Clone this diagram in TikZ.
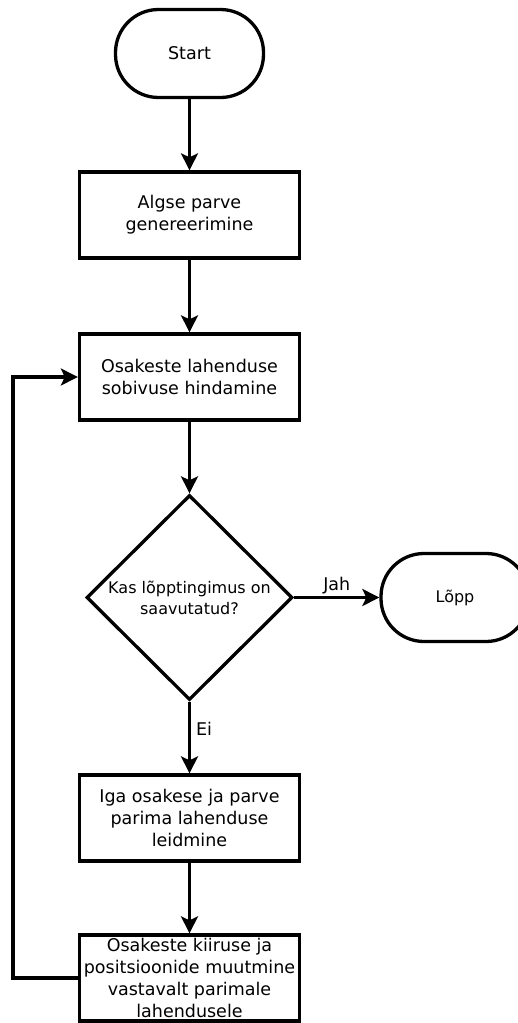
\documentclass[tikz,border=0pt]{standalone}
\usepackage{fontspec}
\setmainfont{DejaVu Sans}
\usetikzlibrary{shapes.geometric,arrows.meta}
\begin{document}
\begin{tikzpicture}[x=1pt,y=-1pt,
  every node/.style={font=\fontsize{17.5}{22}\selectfont},
  smalltext/.style={font=\fontsize{16}{21}\selectfont},
  procbox/.style={draw,line width=3.3pt,minimum width=220pt,minimum height=86pt,align=center,inner sep=0pt},
  term/.style={draw,line width=3.3pt,rounded corners=43pt,minimum width=148pt,minimum height=88pt,align=center},
  decision/.style={draw,diamond,line width=3.3pt,minimum width=206pt,minimum height=205pt,inner sep=0pt},
  conn/.style={line width=3.3pt,-{Stealth[length=17pt,width=17pt,inset=4pt]}},
  lbl/.style={inner sep=1pt}]
\useasboundingbox (0,0) rectangle (518,1023);
\node[term] (start) at (189.5,53.5) {Start};
\node[procbox] (b1) at (189.5,215) {Algse parve\\genereerimine};
\node[procbox] (b2) at (189.5,377) {Osakeste lahenduse\\sobivuse hindamine};
\node[decision,label={[align=center,smalltext]center:Kas lõpptingimus on\\saavutatud?}] (dec) at (189.5,597.5) {};
\node[term,smalltext] (lopp) at (455,597.5) {Lõpp};
\node[procbox] (b3) at (189.5,818) {Iga osakese ja parve\\parima lahenduse\\leidmine};
\node[procbox] (b4) at (189.5,978) {Osakeste kiiruse ja\\positsioonide muutmine\\vastavalt parimale\\lahendusele};
\coordinate (lp) at (13,978);
\draw[conn] (start) -- (b1);
\draw[conn] (b1) -- (b2);
\draw[conn] (b2) -- (dec);
\draw[conn] (dec) -- node[lbl,above,yshift=1pt] (jah) {Jah} (lopp);
\draw[conn] (dec) -- node[lbl,right,xshift=4pt,pos=0.38] (ei) {Ei} (b3);
\draw[conn] (b3) -- (b4);
\draw[conn] (b4.west) -- (lp) |- (b2.west);
\end{tikzpicture}
\end{document}
